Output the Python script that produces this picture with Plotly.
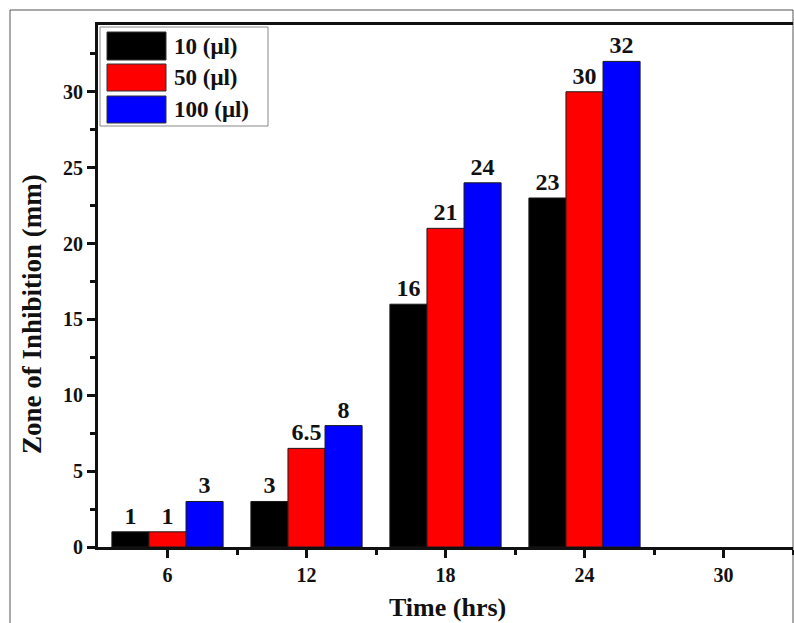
import plotly.graph_objects as go

hours = [6, 12, 18, 24, 30]
series_names = ["10 (μl)", "50 (μl)", "100 (μl)"]
v10 = [1, 3, 16, 23, None]
v50 = [1, 6.5, 21, 30, None]
v100 = [3, 8, 24, 32, None]
colors = ["#000000", "#ff0000", "#0000ff"]

W, H = 794, 623
L, R, T, B = 98, 1, 25, 76
PW, PH = W - L - R, H - T - B

def px(x):
    return (x - L) / PW

def py(y):
    return (H - B - y) / PH

FONT = "Liberation Serif"
INK = "#111111"

fig = go.Figure()
for name, vals, col in zip(series_names, [v10, v50, v100], colors):
    fig.add_trace(go.Bar(
        x=hours, y=vals, name=name,
        marker=dict(color=col, line=dict(color="#1a1a1a", width=1)),
        text=[("" if v is None else f"{v:g}") for v in vals],
        textposition="outside",
        textfont=dict(family=FONT, size=24, color=INK, weight="bold"),
        constraintext="none",
        cliponaxis=False,
        showlegend=False,
    ))

shapes = []
annotations = []
# outer image frame
shapes.append(dict(type="rect", xref="paper", yref="paper",
                   x0=px(10), x1=px(793), y0=py(650), y1=py(10),
                   line=dict(color="#555", width=1), layer="below"))
# legend box
shapes.append(dict(type="rect", xref="paper", yref="paper",
                   x0=px(100), x1=px(268), y0=py(126), y1=py(27),
                   line=dict(color="#888", width=1), fillcolor="white"))
sw_y = [(32, 60), (64, 91), (96, 123)]
for (y0, y1), col, name in zip(sw_y, colors, series_names):
    shapes.append(dict(type="rect", xref="paper", yref="paper",
                       x0=px(107), x1=px(166), y0=py(y1), y1=py(y0),
                       line=dict(color="#333", width=1), fillcolor=col))
    annotations.append(dict(xref="paper", yref="paper", x=px(172), y=py((y0 + y1) / 2),
                            text=name, showarrow=False, xanchor="left", yanchor="middle",
                            font=dict(family=FONT, size=23, color=INK, weight="bold")))
# axis titles
annotations.append(dict(xref="paper", yref="paper", x=px(32), y=py(314),
                        text="Zone of Inhibition (mm)", textangle=-90, showarrow=False,
                        xanchor="center", yanchor="middle",
                        font=dict(family=FONT, size=27, color=INK, weight="bold")))
annotations.append(dict(xref="paper", yref="paper", x=px(447), y=py(607),
                        text="Time (hrs)", showarrow=False,
                        xanchor="center", yanchor="middle",
                        font=dict(family=FONT, size=26, color=INK, weight="bold")))

fig.update_layout(
    width=W, height=H,
    margin=dict(l=L, r=R, t=T, b=B, pad=0),
    paper_bgcolor="white", plot_bgcolor="white",
    barmode="group", bargap=0.2, bargroupgap=0,
    shapes=shapes, annotations=annotations,
    showlegend=False,
    xaxis=dict(range=[3, 33], tickmode="array", tickvals=hours,
               ticks="outside", ticklen=8, tickwidth=3, tickcolor=INK,
               showline=True, linewidth=3, linecolor=INK, mirror=True,
               showgrid=False, zeroline=False,
               tickfont=dict(family=FONT, size=20, color=INK, weight="bold"),
               minor=dict(tickvals=[9, 15, 21, 27, 33], ticks="outside",
                          ticklen=5, tickwidth=3, tickcolor=INK, showgrid=False)),
    yaxis=dict(range=[0, 34.4], dtick=5, tick0=0,
               ticks="outside", ticklen=8, tickwidth=3, tickcolor=INK,
               showline=True, linewidth=3, linecolor=INK,
               showgrid=False, zeroline=False,
               tickfont=dict(family=FONT, size=20, color=INK, weight="bold"),
               minor=dict(dtick=2.5, ticks="outside", ticklen=5, tickwidth=3,
                          tickcolor=INK, showgrid=False)),
)

fig.write_html("out.html",
               config={"displayModeBar": False},
               post_script="document.body.style.margin='0';document.body.style.overflow='hidden';")
